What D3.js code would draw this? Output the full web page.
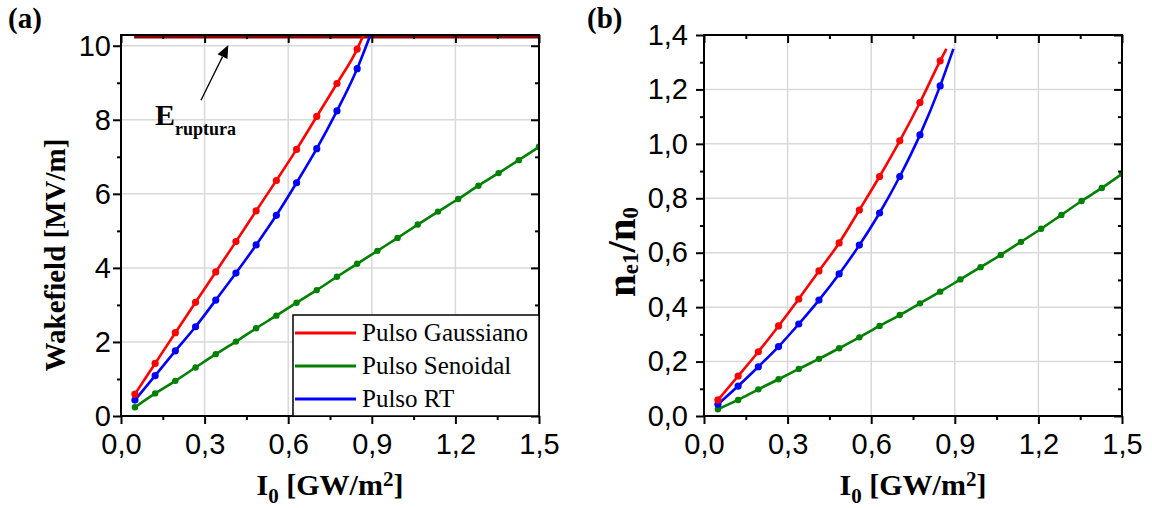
<!DOCTYPE html>
<html>
<head>
<meta charset="utf-8">
<script src="https://cdn.jsdelivr.net/npm/d3@7"></script>
<style>
  html, body { margin: 0; padding: 0; background: #fff; }
  svg { display: block; }
</style>
</head>
<body>
<svg id="chart" width="1152" height="508"></svg>
<script>
// ---------------- DATA ----------------
const intensity = [0.05, 0.1225, 0.195, 0.2675, 0.34, 0.4125, 0.485, 0.5575, 0.63, 0.7025, 0.775,
                   0.8475, 0.92, 0.9925, 1.065, 1.1375, 1.21, 1.2825, 1.355, 1.4275, 1.5];

// panel (a): wakefield [MV/m]
const gaussWake = [0.59, 1.42, 2.25, 3.07, 3.89, 4.71, 5.54, 6.36, 7.20, 8.09, 8.98, 9.91];
const senoWake  = [0.235, 0.61, 0.95, 1.31, 1.67, 2.01, 2.37, 2.71, 3.06, 3.40, 3.76, 4.11, 4.46,
                   4.81, 5.17, 5.52, 5.86, 6.22, 6.56, 6.91, 7.27];
const rtWake    = [0.43, 1.09, 1.76, 2.41, 3.13, 3.86, 4.62, 5.42, 6.30, 7.22, 8.24, 9.38];

// panel (b): n_e1 / n_0
const gaussRatio = [0.059, 0.147, 0.236, 0.331, 0.430, 0.533, 0.636, 0.757, 0.880, 1.011, 1.152, 1.305];
const senoRatio  = [0.025, 0.059, 0.098, 0.135, 0.173, 0.210, 0.249, 0.289, 0.331, 0.371, 0.414,
                    0.457, 0.502, 0.547, 0.592, 0.640, 0.688, 0.739, 0.790, 0.838, 0.890];
const rtRatio    = [0.043, 0.110, 0.181, 0.255, 0.338, 0.426, 0.522, 0.628, 0.746, 0.880, 1.033, 1.213];

// last computed point of each curve (no marker drawn there)
const gaussEnd = [0.870, 10.29, 1.349];   // [I0, wakefield, ratio]
const rtEnd    = [0.895, 10.29, 1.349];

// breakdown field
const eRuptura = 10.24;
const eRupturaRange = [0.047, 1.5];

// ticks
const xMajor = [0, 0.3, 0.6, 0.9, 1.2, 1.5];
const xMinor = [0.15, 0.45, 0.75, 1.05, 1.35];
const yMajorA = [0, 2, 4, 6, 8, 10];
const yMinorA = [1, 3, 5, 7, 9];
const yMajorB = [0, 0.2, 0.4, 0.6, 0.8, 1.0, 1.2, 1.4];
const yMinorB = [0.1, 0.3, 0.5, 0.7, 0.9, 1.1, 1.3];

const seriesNames = ["Pulso Gaussiano", "Pulso Senoidal", "Pulso RT"];
const seriesColors = ["#ff0000", "#008000", "#0000ff"];

// ---------------- DRAW ----------------
const svg = d3.select("#chart");
const commaFmt = d => d3.format(".1f")(d).replace(".", ",");
const tickFont = "'Liberation Sans', Arial, sans-serif";
const serif = "'Liberation Serif', 'Times New Roman', serif";

function makeSeries(vals, endPt, idx) {
  const pts = vals.map((v, i) => [intensity[i], v]);
  const line = endPt ? pts.concat([[endPt[0], endPt[idx]]]) : pts;
  return { pts, line };
}

function drawPanel(cfg) {
  const { left, right, top, bottom, yDomain, yMajor, yMinor, yFmt, series, id } = cfg;
  const x = d3.scaleLinear().domain([0, 1.5]).range([left, right]);
  const y = d3.scaleLinear().domain(yDomain).range([bottom, top]);
  const g = svg.append("g");

  // grid
  g.append("g").selectAll("line").data(xMajor.slice(1, -1)).join("line")
    .attr("x1", d => x(d)).attr("x2", d => x(d)).attr("y1", top).attr("y2", bottom)
    .attr("stroke", "#d9d9d9").attr("stroke-width", 1.5);
  g.append("g").selectAll("line").data(yMajor.filter(v => v > yDomain[0] && y(v) > top + 2)).join("line")
    .attr("x1", left).attr("x2", right).attr("y1", d => y(d)).attr("y2", d => y(d))
    .attr("stroke", "#d9d9d9").attr("stroke-width", 1.5);

  // clip
  svg.append("clipPath").attr("id", "clip" + id).append("rect")
    .attr("x", left).attr("y", top - 1).attr("width", right - left).attr("height", bottom - top + 1);

  const plot = g.append("g").attr("clip-path", `url(#clip${id})`);
  if (cfg.extra) cfg.extra(plot, x, y);

  const lineGen = d3.line().x(d => x(d[0])).y(d => y(d[1])).curve(d3.curveMonotoneX);
  series.forEach(s => {
    plot.append("path").datum(s.line).attr("d", lineGen)
      .attr("fill", "none").attr("stroke", s.color).attr("stroke-width", 2.6);
    plot.append("g").selectAll("circle").data(s.pts).join("circle")
      .attr("cx", d => x(d[0])).attr("cy", d => y(d[1])).attr("r", s.r)
      .attr("fill", s.color);
  });

  // axes
  function styleAxis(sel) {
    sel.select(".domain").remove();
    sel.selectAll("line").attr("stroke", "#000").attr("stroke-width", 2);
    sel.selectAll("text").attr("font-family", tickFont).attr("font-size", 29).attr("fill", "#000");
  }
  g.append("g").attr("transform", `translate(0,${bottom})`)
    .call(d3.axisBottom(x).tickValues(xMajor).tickFormat(commaFmt).tickSize(8).tickSizeOuter(0).tickPadding(9))
    .call(styleAxis);
  g.append("g").attr("transform", `translate(0,${bottom})`)
    .call(d3.axisBottom(x).tickValues(xMinor).tickFormat("").tickSize(4).tickSizeOuter(0))
    .call(styleAxis);
  g.append("g").attr("transform", `translate(0,${top})`)
    .call(d3.axisTop(x).tickValues(xMajor).tickFormat("").tickSize(-8).tickSizeOuter(0))
    .call(styleAxis);
  g.append("g").attr("transform", `translate(0,${top})`)
    .call(d3.axisTop(x).tickValues(xMinor).tickFormat("").tickSize(-4).tickSizeOuter(0))
    .call(styleAxis);
  g.append("g").attr("transform", `translate(${left},0)`)
    .call(d3.axisLeft(y).tickValues(yMajor).tickFormat(yFmt).tickSize(8).tickSizeOuter(0).tickPadding(cfg.yPad))
    .call(styleAxis);
  g.append("g").attr("transform", `translate(${left},0)`)
    .call(d3.axisLeft(y).tickValues(yMinor).tickFormat("").tickSize(4).tickSizeOuter(0))
    .call(styleAxis);
  g.append("g").attr("transform", `translate(${right},0)`)
    .call(d3.axisRight(y).tickValues(yMajor).tickFormat("").tickSize(-8).tickSizeOuter(0))
    .call(styleAxis);
  g.append("g").attr("transform", `translate(${right},0)`)
    .call(d3.axisRight(y).tickValues(yMinor).tickFormat("").tickSize(-4).tickSizeOuter(0))
    .call(styleAxis);

  // frame
  g.append("rect").attr("x", left).attr("y", top).attr("width", right - left).attr("height", bottom - top)
    .attr("fill", "none").attr("stroke", "#000").attr("stroke-width", 2);

  // x title
  const xt = g.append("text").attr("x", (left + right) / 2).attr("y", 495)
    .attr("text-anchor", "middle").attr("font-family", serif).attr("font-weight", "bold")
    .attr("font-size", 30).attr("fill", "#000");
  xt.append("tspan").text("I");
  xt.append("tspan").attr("font-size", 21).attr("dy", 8).text("0");
  xt.append("tspan").attr("dy", -8).text(" [GW/m");
  xt.append("tspan").attr("font-size", 21).attr("dy", -9).text("2");
  xt.append("tspan").attr("dy", 9).text("]");

  // panel label
  g.append("text").attr("x", cfg.labelX).attr("y", 28).attr("font-family", serif)
    .attr("font-weight", "bold").attr("font-size", 29).attr("fill", "#000").text(cfg.label);

  if (cfg.yTitle) cfg.yTitle(g);
  if (cfg.legend) cfg.legend(g, x, y);
}

// panel (a)
drawPanel({
  id: "a", left: 121, right: 539, top: 35, bottom: 416,
  yDomain: [0, 10.29], yMajor: yMajorA, yMinor: yMinorA, yFmt: d3.format("d"), yPad: 2,
  label: "(a)", labelX: 8,
  series: [
    Object.assign(makeSeries(senoWake, null, 1), { color: seriesColors[1], r: 3.2 }),
    Object.assign(makeSeries(rtWake, rtEnd, 1), { color: seriesColors[2], r: 3.6 }),
    Object.assign(makeSeries(gaussWake, gaussEnd, 1), { color: seriesColors[0], r: 3.6 })
  ],
  extra: (plot, x, y) => {
    plot.append("line").attr("x1", x(eRupturaRange[0])).attr("x2", x(eRupturaRange[1]))
      .attr("y1", y(eRuptura)).attr("y2", y(eRuptura))
      .attr("stroke", "#8b0000").attr("stroke-width", 3.5);
  },
  yTitle: g => {
    g.append("text").attr("transform", "translate(65,255) rotate(-90)")
      .attr("text-anchor", "middle").attr("font-family", serif).attr("font-weight", "bold")
      .attr("font-size", 29).attr("fill", "#000").text("Wakefield [MV/m]");
  },
  legend: (g, x, y) => {
    const lx = 293, ly = 315, lw = 539 - 293, lh = 416 - 315;
    g.append("rect").attr("x", lx).attr("y", ly).attr("width", lw).attr("height", lh)
      .attr("fill", "#fff").attr("stroke", "#000").attr("stroke-width", 1.5);
    seriesNames.forEach((name, i) => {
      const ry = 333 + i * 33;
      g.append("line").attr("x1", 295).attr("x2", 356).attr("y1", ry).attr("y2", ry)
        .attr("stroke", seriesColors[i]).attr("stroke-width", 2.8);
      g.append("text").attr("x", 362).attr("y", ry + 8).attr("font-family", serif)
        .attr("font-size", 25).attr("fill", "#000").text(name);
    });
    // annotation: arrow + E_ruptura
    const tail = [x(0.287), y(8.53)], tip = [x(0.385), y(10.02)];
    const ang = Math.atan2(tip[1] - tail[1], tip[0] - tail[0]);
    const hl = 13, hw = 5.5;
    const bx = tip[0] - hl * Math.cos(ang), by = tip[1] - hl * Math.sin(ang);
    g.append("line").attr("x1", tail[0]).attr("y1", tail[1]).attr("x2", bx).attr("y2", by)
      .attr("stroke", "#000").attr("stroke-width", 1.3);
    g.append("path").attr("d", `M${tip[0]},${tip[1]} L${bx + hw * Math.sin(ang)},${by - hw * Math.cos(ang)} L${bx - hw * Math.sin(ang)},${by + hw * Math.cos(ang)} Z`)
      .attr("fill", "#000");
    const et = g.append("text").attr("x", x(0.122)).attr("y", y(7.86)).attr("font-family", serif)
      .attr("font-weight", "bold").attr("font-size", 30).attr("fill", "#000");
    et.append("tspan").text("E");
    et.append("tspan").attr("font-size", 18).attr("dy", 10).text("ruptura");
  }
});

// panel (b)
drawPanel({
  id: "b", left: 704, right: 1122, top: 35, bottom: 416,
  yDomain: [0, 1.4], yMajor: yMajorB, yMinor: yMinorB, yFmt: commaFmt, yPad: 8,
  label: "(b)", labelX: 587,
  series: [
    Object.assign(makeSeries(senoRatio, null, 2), { color: seriesColors[1], r: 3.2 }),
    Object.assign(makeSeries(rtRatio, rtEnd, 2), { color: seriesColors[2], r: 3.6 }),
    Object.assign(makeSeries(gaussRatio, gaussEnd, 2), { color: seriesColors[0], r: 3.6 })
  ],
  yTitle: g => {
    const t = g.append("text").attr("transform", "translate(635,252) rotate(-90)")
      .attr("text-anchor", "middle").attr("font-family", serif).attr("font-weight", "bold")
      .attr("font-size", 41).attr("fill", "#000");
    t.append("tspan").text("n");
    t.append("tspan").attr("font-size", 23).attr("dy", 3).text("e1");
    t.append("tspan").attr("dy", -3).text("/n");
    t.append("tspan").attr("font-size", 23).attr("dy", 3).text("0");
  }
});
</script>
</body>
</html>
